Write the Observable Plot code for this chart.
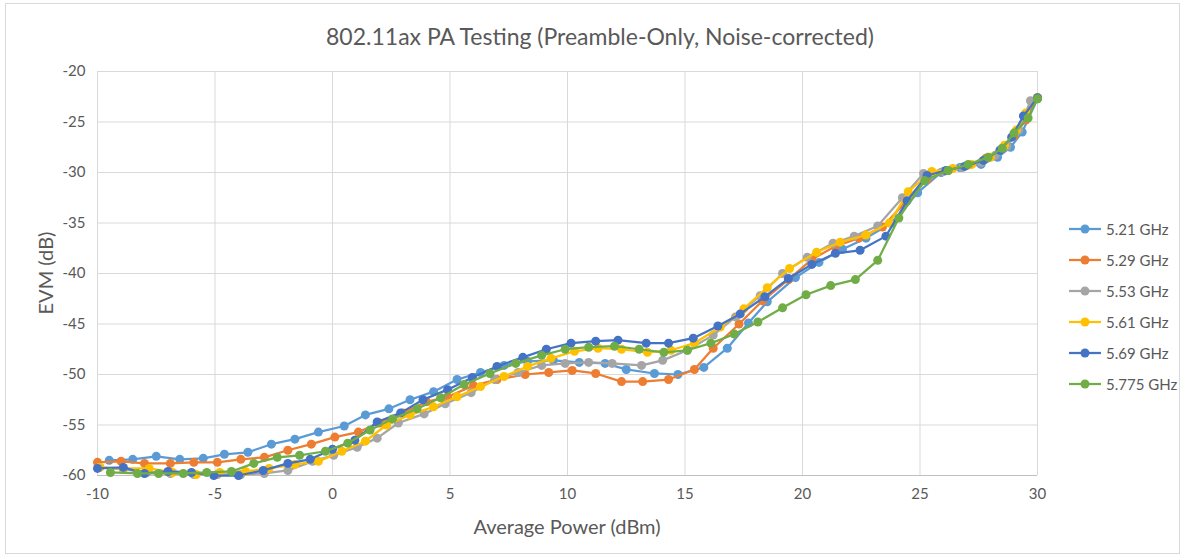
<!DOCTYPE html>
<html>
<head>
<meta charset="utf-8">
<script src="https://cdn.jsdelivr.net/npm/d3@7"></script>
<script src="https://cdn.jsdelivr.net/npm/@observablehq/plot@0.6"></script>
<style>
  html, body { margin: 0; padding: 0; background: #fff; }
  #wrap { position: relative; width: 1183px; height: 557px; font-family: Lato, "Open Sans", sans-serif; color: #595959; overflow: hidden; }
  #border { position: absolute; left: 5px; top: 3px; width: 1175px; height: 551px; border: 1px solid #d9d9d9; box-sizing: border-box; pointer-events: none; }
  #title { position: absolute; left: 0; width: 1200px; top: 22px; text-align: center; font-size: 23px; }
  #ylab { position: absolute; left: 45px; top: 273px; transform: translate(-50%, -50%) rotate(-90deg); font-size: 20px; white-space: nowrap; }
  #xlab { position: absolute; left: 567px; top: 526px; transform: translate(-50%, -50%); font-size: 20px; white-space: nowrap; }
  #legend { position: absolute; left: 1068px; top: 213px; }
  .item { display: flex; align-items: center; height: 31px; font-size: 15px; }
  .item svg { margin-right: 4px; }
</style>
</head>
<body>
<div id="wrap">
  <div id="chart"></div>
  <div id="border"></div>
  <div id="title">802.11ax PA Testing (Preamble-Only, Noise-corrected)</div>
  <div id="ylab">EVM (dB)</div>
  <div id="xlab">Average Power (dBm)</div>
  <div id="legend"></div>
</div>
<script>
const seriesNames = ["5.21 GHz", "5.29 GHz", "5.53 GHz", "5.61 GHz", "5.69 GHz", "5.775 GHz"];
const seriesColors = ["#5B9BD5", "#ED7D31", "#A5A5A5", "#FFC000", "#4472C4", "#70AD47"];

const x521 = [-9.5,-8.5,-7.5,-6.5,-5.5,-4.6,-3.6,-2.6,-1.6,-0.6,0.5,1.4,2.4,3.3,4.3,5.3,6.3,7.3,8.3,9.4,10.5,11.6,12.5,13.7,14.7,15.8,16.8,17.7,18.5,19.7,20.7,21.7,22.7,23.8,24.9,25.9,26.7,27.6,28.3,28.85,29.35,30];
const y521 = [-58.5,-58.4,-58.1,-58.4,-58.3,-57.9,-57.7,-56.9,-56.4,-55.7,-55.1,-54.0,-53.4,-52.5,-51.7,-50.5,-49.8,-49.1,-48.7,-48.6,-48.8,-48.9,-49.5,-49.9,-50.0,-49.3,-47.4,-44.9,-42.8,-40.4,-38.9,-37.6,-36.5,-35.0,-32.0,-30.0,-29.5,-29.2,-28.5,-27.5,-26.0,-22.7];

const x529 = [-10,-9,-8,-6.9,-5.9,-4.9,-3.9,-2.9,-1.9,-0.9,0.1,1.1,2.0,3.0,4.0,4.9,6.0,7.0,8.2,9.2,10.2,11.2,12.3,13.2,14.3,15.4,16.2,17.3,18.3,19.4,20.4,21.4,22.4,23.4,24.4,25.3,26.2,27.0,27.8,28.5,29.0,29.5,30];
const y529 = [-58.7,-58.6,-58.8,-58.8,-58.7,-58.7,-58.4,-58.2,-57.5,-56.9,-56.2,-55.7,-54.8,-53.8,-52.7,-52.2,-51.1,-50.5,-50.0,-49.8,-49.6,-49.9,-50.7,-50.7,-50.5,-49.5,-47.4,-45.0,-42.7,-40.6,-38.6,-37.3,-36.5,-35.4,-32.9,-30.7,-29.8,-29.3,-28.6,-27.6,-26.4,-24.8,-22.6];

const x553 = [-9.9,-8.9,-7.9,-6.9,-5.9,-4.9,-3.9,-2.9,-1.9,-0.85,0.05,1.05,1.9,2.8,3.9,4.8,5.9,6.9,7.9,8.9,9.9,10.9,11.9,13.15,14.05,15.1,16.2,17.15,18.2,19.15,20.2,21.3,22.2,23.2,24.25,25.15,26.0,26.8,27.6,28.2,28.7,29.2,29.7];
const y553 = [-59.2,-59.4,-59.7,-59.8,-59.9,-59.9,-59.9,-59.8,-59.5,-58.6,-58.0,-57.2,-56.3,-54.8,-53.9,-52.9,-51.8,-50.5,-49.8,-49.1,-48.9,-48.8,-48.9,-49.1,-48.6,-47.6,-46.1,-44.3,-42.2,-40.0,-38.4,-37.0,-36.3,-35.3,-32.5,-30.1,-29.9,-29.5,-29.0,-28.3,-27.4,-25.8,-22.9];

const x561 = [-9.9,-8.9,-7.8,-6.8,-5.8,-4.8,-3.7,-2.7,-1.6,-0.6,0.4,1.4,2.3,3.3,4.3,5.3,6.3,7.3,8.3,9.3,10.3,11.3,12.3,13.4,14.4,15.4,16.5,17.5,18.5,19.45,20.6,21.6,22.7,23.7,24.5,25.5,26.4,27.2,28.0,28.6,29.1,29.5,30];
const y561 = [-59.2,-59.3,-59.3,-59.7,-59.9,-59.7,-59.6,-59.3,-58.9,-58.6,-57.6,-56.6,-55.0,-54.0,-53.2,-52.2,-51.2,-50.2,-49.2,-48.4,-47.7,-47.4,-47.5,-47.8,-47.6,-46.9,-45.3,-43.5,-41.4,-39.5,-37.9,-36.9,-36.2,-35.0,-31.9,-29.9,-29.6,-29.2,-28.5,-27.3,-25.8,-24.1,-22.6];

const x569 = [-10,-8.9,-8.0,-7.0,-6.0,-5.05,-4.0,-2.95,-1.9,-0.95,0.0,0.95,1.9,2.9,3.85,4.9,5.95,7.0,8.1,9.1,10.15,11.2,12.15,13.35,14.3,15.35,16.4,17.35,18.4,19.4,20.4,21.4,22.45,23.55,24.45,25.3,26.1,26.9,27.7,28.4,28.9,29.4,30];
const y569 = [-59.3,-59.2,-59.8,-59.6,-59.7,-60.0,-60.0,-59.5,-58.8,-58.4,-57.4,-56.5,-54.7,-53.8,-52.5,-51.5,-50.3,-49.2,-48.3,-47.5,-46.9,-46.7,-46.6,-46.9,-46.9,-46.4,-45.2,-44.0,-42.3,-40.5,-39.1,-38.0,-37.7,-36.3,-32.8,-30.3,-29.8,-29.4,-28.8,-27.8,-26.5,-24.4,-22.6];

const x5775 = [-9.45,-8.3,-7.4,-6.35,-5.35,-4.3,-3.35,-2.35,-1.4,-0.3,0.65,1.6,2.55,3.6,4.6,5.6,6.7,7.8,8.9,9.9,10.9,12.0,13.05,14.1,15.1,16.1,17.1,18.1,19.15,20.15,21.2,22.25,23.2,24.1,25.2,26.2,27.05,27.9,28.5,29.0,29.6,30];
const y5775 = [-59.7,-59.8,-59.8,-59.8,-59.7,-59.6,-58.8,-58.2,-58.0,-57.6,-56.8,-55.5,-54.4,-53.4,-52.3,-51.0,-49.9,-48.9,-48.1,-47.5,-47.3,-47.2,-47.5,-47.8,-47.6,-46.9,-46.0,-44.8,-43.4,-42.1,-41.2,-40.6,-38.7,-34.5,-30.8,-29.8,-29.2,-28.5,-27.6,-26.1,-24.6,-22.7];

const xTicks = [-10, -5, 0, 5, 10, 15, 20, 25, 30];
const yTicks = [-60, -55, -50, -45, -40, -35, -30, -25, -20];

const xs = [x521, x529, x553, x561, x569, x5775];
const ys = [y521, y529, y553, y561, y569, y5775];

const seriesData = seriesNames.map((name, i) =>
  xs[i].map((x, j) => ({series: name, x, y: ys[i][j]}))
);

const seriesMarks = seriesData.flatMap(d => [
  Plot.line(d, {x: "x", y: "y", stroke: "series", strokeWidth: 2.25}),
  Plot.dot(d, {x: "x", y: "y", fill: "series", r: 4.5})
]);

const fmt = d => String(d);

const chart = Plot.plot({
  width: 1183,
  height: 557,
  marginLeft: 97,
  marginRight: 146,
  marginTop: 71,
  marginBottom: 82,
  style: {fontFamily: "Lato, 'Open Sans', sans-serif", fontSize: "15px", color: "#595959", background: "#fff"},
  x: {domain: [-10, 30]},
  y: {domain: [-60, -20]},
  color: {domain: seriesNames, range: seriesColors},
  marks: [
    Plot.gridX(xTicks, {stroke: "#d9d9d9", strokeOpacity: 1, strokeWidth: 1}),
    Plot.gridY(yTicks, {stroke: "#d9d9d9", strokeOpacity: 1, strokeWidth: 1}),
    Plot.ruleY([-60], {stroke: "#bfbfbf", strokeWidth: 1}),
    Plot.axisX(xTicks, {tickSize: 0, tickPadding: 13, label: null, tickFormat: fmt, fill: "#595959", fontSize: 15}),
    Plot.axisY(yTicks, {tickSize: 0, tickPadding: 12, label: null, tickFormat: fmt, fill: "#595959", fontSize: 15}),
    ...seriesMarks
  ]
});
document.getElementById("chart").appendChild(chart);

const legend = document.getElementById("legend");
seriesNames.forEach((name, i) => {
  const item = document.createElement("div");
  item.className = "item";
  const c = seriesColors[i];
  item.innerHTML = `<svg width="34" height="12"><line x1="1" y1="6" x2="33" y2="6" stroke="${c}" stroke-width="2.25"/><circle cx="17" cy="6" r="4.5" fill="${c}"/></svg><span>${name}</span>`;
  legend.appendChild(item);
});
</script>
</body>
</html>
